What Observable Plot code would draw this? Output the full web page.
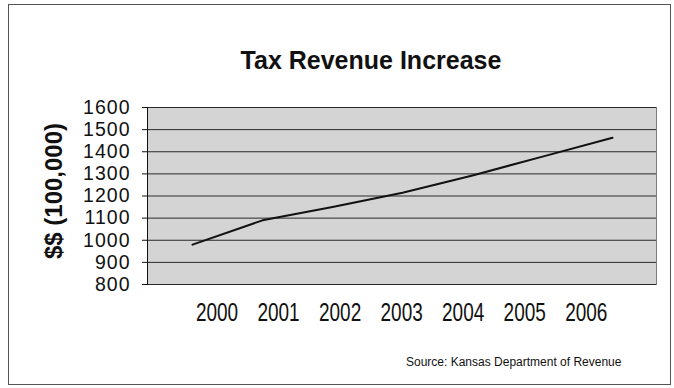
<!DOCTYPE html>
<html>
<head>
<meta charset="utf-8">
<script src="https://cdn.jsdelivr.net/npm/d3@7"></script>
<script src="https://cdn.jsdelivr.net/npm/@observablehq/plot@0.6"></script>
<style>
  html, body { margin: 0; padding: 0; background: #fff; }
  #wrap { position: relative; width: 674px; height: 388px; overflow: hidden; font-family: "Liberation Sans", Arial, sans-serif; color: #111; }
  #border { position: absolute; left: 8px; top: 4px; width: 663px; height: 381px; box-sizing: border-box; border: 1px solid #555; }
  #title { position: absolute; left: 200px; width: 342px; top: 46px; text-align: center; font-weight: bold; font-size: 25px; white-space: nowrap; }
  #ylabel { position: absolute; left: -46px; width: 200px; top: 176px; height: 30px; line-height: 30px; text-align: center; font-weight: bold; font-size: 24px; transform: rotate(-90deg); white-space: nowrap; }
  #source { position: absolute; left: 406px; top: 355px; font-size: 12px; white-space: nowrap; }
  #main, #xaxis { position: absolute; left: 0; }
  #main { top: 0; width: 674px; }
  #xaxis { top: 300px; transform-origin: 0 0; }
  #xaxis svg { max-width: none !important; }
</style>
</head>
<body>
<div id="wrap">
  <div id="border"></div>
  <div id="main"></div>
  <div id="xaxis"></div>
  <div id="title">Tax Revenue Increase</div>
  <div id="ylabel">$$ (100,000)</div>
  <div id="source">Source: Kansas Department of Revenue</div>
</div>
<script>
const years = ["2000", "2001", "2002", "2003", "2004", "2005", "2006"];
const revenue = [980, 1090, 1150, 1215, 1293, 1378, 1463];
const yTicks = [800, 900, 1000, 1100, 1200, 1300, 1400, 1500, 1600];

const data = years.map((year, i) => ({year, value: revenue[i]}));

const main = Plot.plot({
  width: 674,
  height: 300,
  marginTop: 107,
  marginBottom: 16,
  marginLeft: 147,
  marginRight: 18,
  style: {background: "transparent", fontFamily: "'Liberation Sans', Arial, sans-serif", color: "#111"},
  x: {type: "point", domain: years, padding: 0.6, axis: null},
  y: {domain: [800, 1600]},
  marks: [
    Plot.frame({fill: "#d4d4d4", stroke: "#7a7a7a"}),
    Plot.ruleY(yTicks, {stroke: "#2a2a2a", strokeWidth: 1}),
    Plot.frame({anchor: "left", stroke: "#111"}),
    Plot.axisY({ticks: yTicks, tickFormat: d => String(d), tickSize: 5, tickPadding: 12, fontSize: 19.5, label: null, stroke: "#111"}),
    Plot.line(data, {x: "year", y: "value", stroke: "#111", strokeWidth: 2})
  ]
});
main.querySelectorAll("text").forEach(t => t.style.letterSpacing = "1px");
document.getElementById("main").appendChild(main);

// x labels drawn in a horizontally compressed strip (narrow typeface look)
const s = 0.76;
const W = 674 / s;
const xaxis = Plot.plot({
  width: W,
  height: 40,
  marginTop: 1,
  marginBottom: 39,
  marginLeft: 215 / s,
  marginRight: W - 587 / s,
  style: {background: "transparent", fontFamily: "'Liberation Sans', Arial, sans-serif", color: "#111"},
  x: {type: "point", domain: years, padding: 0},
  marks: [
    Plot.axisX({anchor: "top", tickSize: 0, tickPadding: 0, fontSize: 25, label: null, lineAnchor: "top", dy: 2})
  ]
});
const xa = document.getElementById("xaxis");
xa.style.width = W + "px";
xa.style.transform = `scaleX(${s})`;
xa.appendChild(xaxis);
</script>
</body>
</html>
